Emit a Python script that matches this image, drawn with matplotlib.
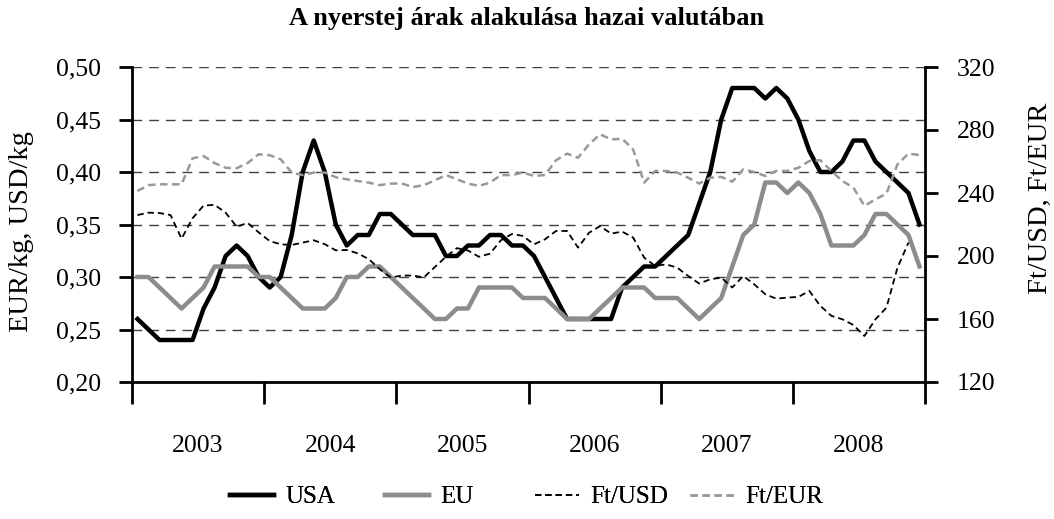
import numpy as np
import matplotlib
matplotlib.use("Agg")
import matplotlib.pyplot as plt
from matplotlib.ticker import FixedLocator, FuncFormatter

plt.rcParams['font.family'] = ['Liberation Serif', 'DejaVu Serif']

years = ['2003', '2004', '2005', '2006', '2007', '2008']

usa = [0.26, 0.25, 0.24, 0.24, 0.24, 0.24, 0.27, 0.29, 0.32, 0.33, 0.32, 0.30,
       0.29, 0.30, 0.34, 0.40, 0.43, 0.40, 0.35, 0.33, 0.34, 0.34, 0.36, 0.36,
       0.35, 0.34, 0.34, 0.34, 0.32, 0.32, 0.33, 0.33, 0.34, 0.34, 0.33, 0.33,
       0.32, 0.30, 0.28, 0.26, 0.26, 0.26, 0.26, 0.26, 0.29, 0.30, 0.31, 0.31,
       0.32, 0.33, 0.34, 0.37, 0.40, 0.45, 0.48, 0.48, 0.48, 0.47, 0.48, 0.47,
       0.45, 0.42, 0.40, 0.40, 0.41, 0.43, 0.43, 0.41, 0.40, 0.39, 0.38, 0.35]

eu = [0.30, 0.30, 0.29, 0.28, 0.27, 0.28, 0.29, 0.31, 0.31, 0.31, 0.31, 0.30,
      0.30, 0.29, 0.28, 0.27, 0.27, 0.27, 0.28, 0.30, 0.30, 0.31, 0.31, 0.30,
      0.29, 0.28, 0.27, 0.26, 0.26, 0.27, 0.27, 0.29, 0.29, 0.29, 0.29, 0.28,
      0.28, 0.28, 0.27, 0.26, 0.26, 0.26, 0.27, 0.28, 0.29, 0.29, 0.29, 0.28,
      0.28, 0.28, 0.27, 0.26, 0.27, 0.28, 0.31, 0.34, 0.35, 0.39, 0.39, 0.38,
      0.39, 0.38, 0.36, 0.33, 0.33, 0.33, 0.34, 0.36, 0.36, 0.35, 0.34, 0.31]

ft_usd = [226, 227.5, 227.3, 226, 211, 224, 232, 232.5, 227.5, 218.6, 221, 215,
          209.5, 207.4, 207, 208.5, 210, 207.5, 203.6, 203.8, 201.7, 198, 191.6, 186.3,
          187.6, 187.6, 186.4, 193, 199.5, 205, 203.5, 199.5, 201.5, 210, 214, 212.7,
          207.4, 210.6, 215.9, 215.9, 205.3, 214.8, 219, 214.2, 215.5, 211.7, 199, 193.7,
          194.7, 192.6, 187.3, 182.5, 185.2, 186.3, 180, 187.3, 182, 175.7, 172.9, 173.6,
          174, 177.8, 168.3, 162, 159.8, 156.2, 149.2, 159.8, 167.2, 192.6, 208.5, np.nan]

ft_eur = [241.3, 245, 245.5, 245.5, 245.5, 262, 263.5, 259, 256, 255.7, 259, 264.6,
          264, 261.4, 253, 251.4, 253, 253, 250, 248.7, 247.6, 246.6, 245, 246,
          246, 243.8, 245, 248, 251.4, 248.7, 246, 244.5, 246.6, 251.4, 251.4, 253,
          250.8, 251.4, 260.8, 265, 262.4, 270.9, 277.3, 274, 274.5, 267.7, 246.6, 254,
          254, 253, 249.7, 246, 249.7, 250.2, 247.2, 255, 253.3, 250.8, 254, 254,
          256, 260.3, 260.8, 254, 247.6, 243.4, 231.8, 236, 239.6, 258.2, 265, 264.1]

left_ticks = [0.20, 0.25, 0.30, 0.35, 0.40, 0.45, 0.50]
right_ticks = [120, 160, 200, 240, 280, 320]

W, H = 1054, 519
fig = plt.figure(figsize=(W / 100, H / 100), dpi=100)
L, R, T, B = 132, 925, 67, 382
ax = fig.add_axes([L / W, 1 - B / H, (R - L) / W, (B - T) / H])

x = np.arange(len(usa))
ax.set_xlim(-0.5, len(usa) - 0.5)
ax.set_ylim(left_ticks[0], left_ticks[-1])

# grid
for v in left_ticks[1:]:
    ax.axhline(v, color='#404040', lw=1.0, dashes=(7, 5), zorder=0.5)

l1, = ax.plot(x, usa, color='black', lw=3.2, label='USA', zorder=3)
l2, = ax.plot(x, eu, color='#8c8c8c', lw=3.2, label='EU', zorder=3)

ax2 = ax.twinx()
ax2.set_ylim(right_ticks[0], right_ticks[-1])
l3, = ax2.plot(x, ft_usd, color='black', lw=1.3, dashes=(3.5, 2.2), label='Ft/USD')
l4, = ax2.plot(x, ft_eur, color='#999999', lw=1.8, dashes=(3, 1.8), label='Ft/EUR')

# spines
for a in (ax, ax2):
    a.spines['top'].set_visible(False)
    for s in ('left', 'right', 'bottom'):
        a.spines[s].set_linewidth(2.0)
ax.spines['right'].set_visible(False)
ax2.spines['left'].set_visible(False)
ax2.spines['bottom'].set_visible(False)

TICK_FS = 18.5

# left y axis
ax.yaxis.set_major_locator(FixedLocator(left_ticks))
ax.yaxis.set_major_formatter(FuncFormatter(lambda v, p: f"{v:.2f}".replace('.', ',')))
ax.tick_params(axis='y', direction='out', length=9.5, width=2.0, pad=13, labelsize=TICK_FS)

# right y axis
ax2.yaxis.set_major_locator(FixedLocator(right_ticks))
ax2.tick_params(axis='y', direction='out', length=9, width=2.0, pad=14, labelsize=TICK_FS)

# x axis: year boundaries as major ticks, year labels as minor
n_years = len(years)
ax.set_xticks([-0.5 + 12 * k for k in range(n_years + 1)])
ax.set_xticklabels([])
ax.set_xticks([5.5 + 12 * k for k in range(n_years)], minor=True)
ax.set_xticklabels(years, minor=True)
ax.tick_params(axis='x', which='major', direction='out', length=16, width=2.0)
ax.tick_params(axis='x', which='minor', length=0, pad=38, labelsize=TICK_FS)

fig.text(527 / W, 1 - 18 / H, 'A nyerstej árak alakulása hazai valutában',
         ha='center', va='center', fontsize=19, fontweight='bold')
fig.text(22 / W, 1 - 232 / H, 'EUR/kg, USD/kg', rotation=90,
         ha='center', va='center', fontsize=20.5)
fig.text(1040 / W, 1 - 198 / H, 'Ft/USD, Ft/EUR', rotation=90,
         ha='center', va='center', fontsize=20.5)

# legend: one entry per slot, evenly spaced like the original
leg_x = [230, 385, 535, 690]
for h, lx in zip([l1, l2, l3, l4], leg_x):
    lg = fig.legend(handles=[h], loc='center left', bbox_to_anchor=(lx / W, 1 - 497 / H),
                    frameon=False, fontsize=18, handlelength=1.75,
                    handletextpad=0.45, borderpad=0, borderaxespad=0)
    fig.add_artist(lg)

fig.savefig('out.png', dpi=100)
